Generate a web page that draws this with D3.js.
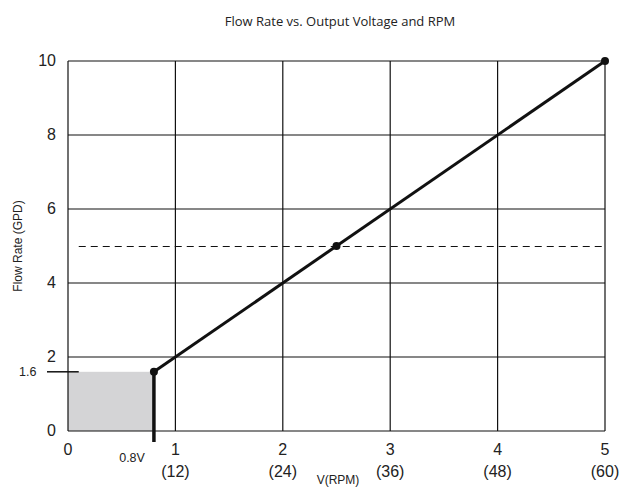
<!DOCTYPE html>
<meta charset="utf-8">
<style>
  body { margin: 0; background: #fff; }
  text { font-family: "Liberation Sans", Arial, sans-serif; fill: #222; }
  .title { font-family: "Open Sans", sans-serif; font-size: 13px; }
</style>
<svg width="623" height="489"></svg>
<script src="https://d3js.org/d3.v7.min.js"></script>
<script>
  // data
  var xTicks = [0, 1, 2, 3, 4, 5];
  var rpmLabels = ["", "(12)", "(24)", "(36)", "(48)", "(60)"];
  var yTicks = [0, 2, 4, 6, 8, 10];
  var lineVolts = [0.8, 5];
  var lineFlow = [1.6, 10];
  var dotVolts = [0.8, 2.5, 5];
  var dotFlow = [1.6, 5, 10];
  var dashFlow = 5;
  var dashStart = 0.1;
  var startV = 0.8, startFlow = 1.6;

  var svg = d3.select("svg");
  var x = d3.scaleLinear().domain([0, 5]).range([68, 605]);
  var y = d3.scaleLinear().domain([0, 10]).range([431, 61]);

  // shaded region below start point
  svg.append("rect")
    .attr("x", x(0)).attr("y", y(startFlow))
    .attr("width", x(startV) - x(0)).attr("height", y(0) - y(startFlow))
    .attr("fill", "#d4d4d6");

  // grid
  var g = svg.append("g");
  g.selectAll(".vx").data(xTicks).enter().append("line")
    .attr("x1", d => x(d)).attr("x2", d => x(d))
    .attr("y1", y(0)).attr("y2", y(10))
    .attr("stroke", "#111").attr("stroke-width", 1.2);
  g.selectAll(".hy").data(yTicks).enter().append("line")
    .attr("x1", x(0)).attr("x2", x(5))
    .attr("y1", d => y(d)).attr("y2", d => y(d))
    .attr("stroke", "#111").attr("stroke-width", 1.2);

  // dashed line
  svg.append("line")
    .attr("x1", x(dashStart)).attr("x2", x(5))
    .attr("y1", y(dashFlow) + 0.5).attr("y2", y(dashFlow) + 0.5)
    .attr("stroke", "#111").attr("stroke-width", 1)
    .attr("stroke-dasharray", "7,5");

  // 1.6 marker tick
  svg.append("line")
    .attr("x1", 47).attr("x2", x(0.1))
    .attr("y1", y(startFlow)).attr("y2", y(startFlow))
    .attr("stroke", "#111").attr("stroke-width", 1.5);
  svg.append("text").attr("x", 19).attr("y", y(startFlow) + 4)
    .style("font-size", "12.5px").text("1.6");

  // thick vertical at 0.8V
  svg.append("line")
    .attr("x1", x(startV)).attr("x2", x(startV))
    .attr("y1", y(startFlow)).attr("y2", y(0) + 11)
    .attr("stroke", "#111").attr("stroke-width", 3.5);
  svg.append("text").attr("x", x(startV) - 9).attr("y", 462)
    .attr("text-anchor", "end").style("font-size", "12.5px").text("0.8V");

  // main line
  svg.append("line")
    .attr("x1", x(lineVolts[0])).attr("y1", y(lineFlow[0]))
    .attr("x2", x(lineVolts[1])).attr("y2", y(lineFlow[1]))
    .attr("stroke", "#111").attr("stroke-width", 3);

  svg.selectAll(".dot").data(dotVolts).enter().append("circle")
    .attr("cx", d => x(d)).attr("cy", (d, i) => y(dotFlow[i]))
    .attr("r", 4).attr("fill", "#111");

  // y tick labels
  svg.selectAll(".yl").data(yTicks).enter().append("text")
    .attr("x", 56).attr("y", d => y(d) + 5)
    .attr("text-anchor", "end").style("font-size", "16px")
    .text(d => d);

  // x tick labels
  svg.selectAll(".xl").data(xTicks).enter().append("text")
    .attr("x", d => x(d)).attr("y", 455)
    .attr("text-anchor", "middle").style("font-size", "16px")
    .text(d => d);
  svg.selectAll(".xr").data(rpmLabels).enter().append("text")
    .attr("x", (d, i) => x(xTicks[i])).attr("y", 477)
    .attr("text-anchor", "middle").style("font-size", "16px")
    .text(d => d);

  svg.append("text").attr("x", 338).attr("y", 484)
    .attr("text-anchor", "middle").style("font-size", "12px").text("V(RPM)");

  svg.append("text")
    .attr("transform", "translate(22," + y(5) + ") rotate(-90)")
    .attr("text-anchor", "middle").style("font-size", "12px")
    .text("Flow Rate (GPD)");

  svg.append("text").attr("class", "title")
    .attr("x", 340).attr("y", 26).attr("text-anchor", "middle")
    .text("Flow Rate vs. Output Voltage and RPM");
</script>
